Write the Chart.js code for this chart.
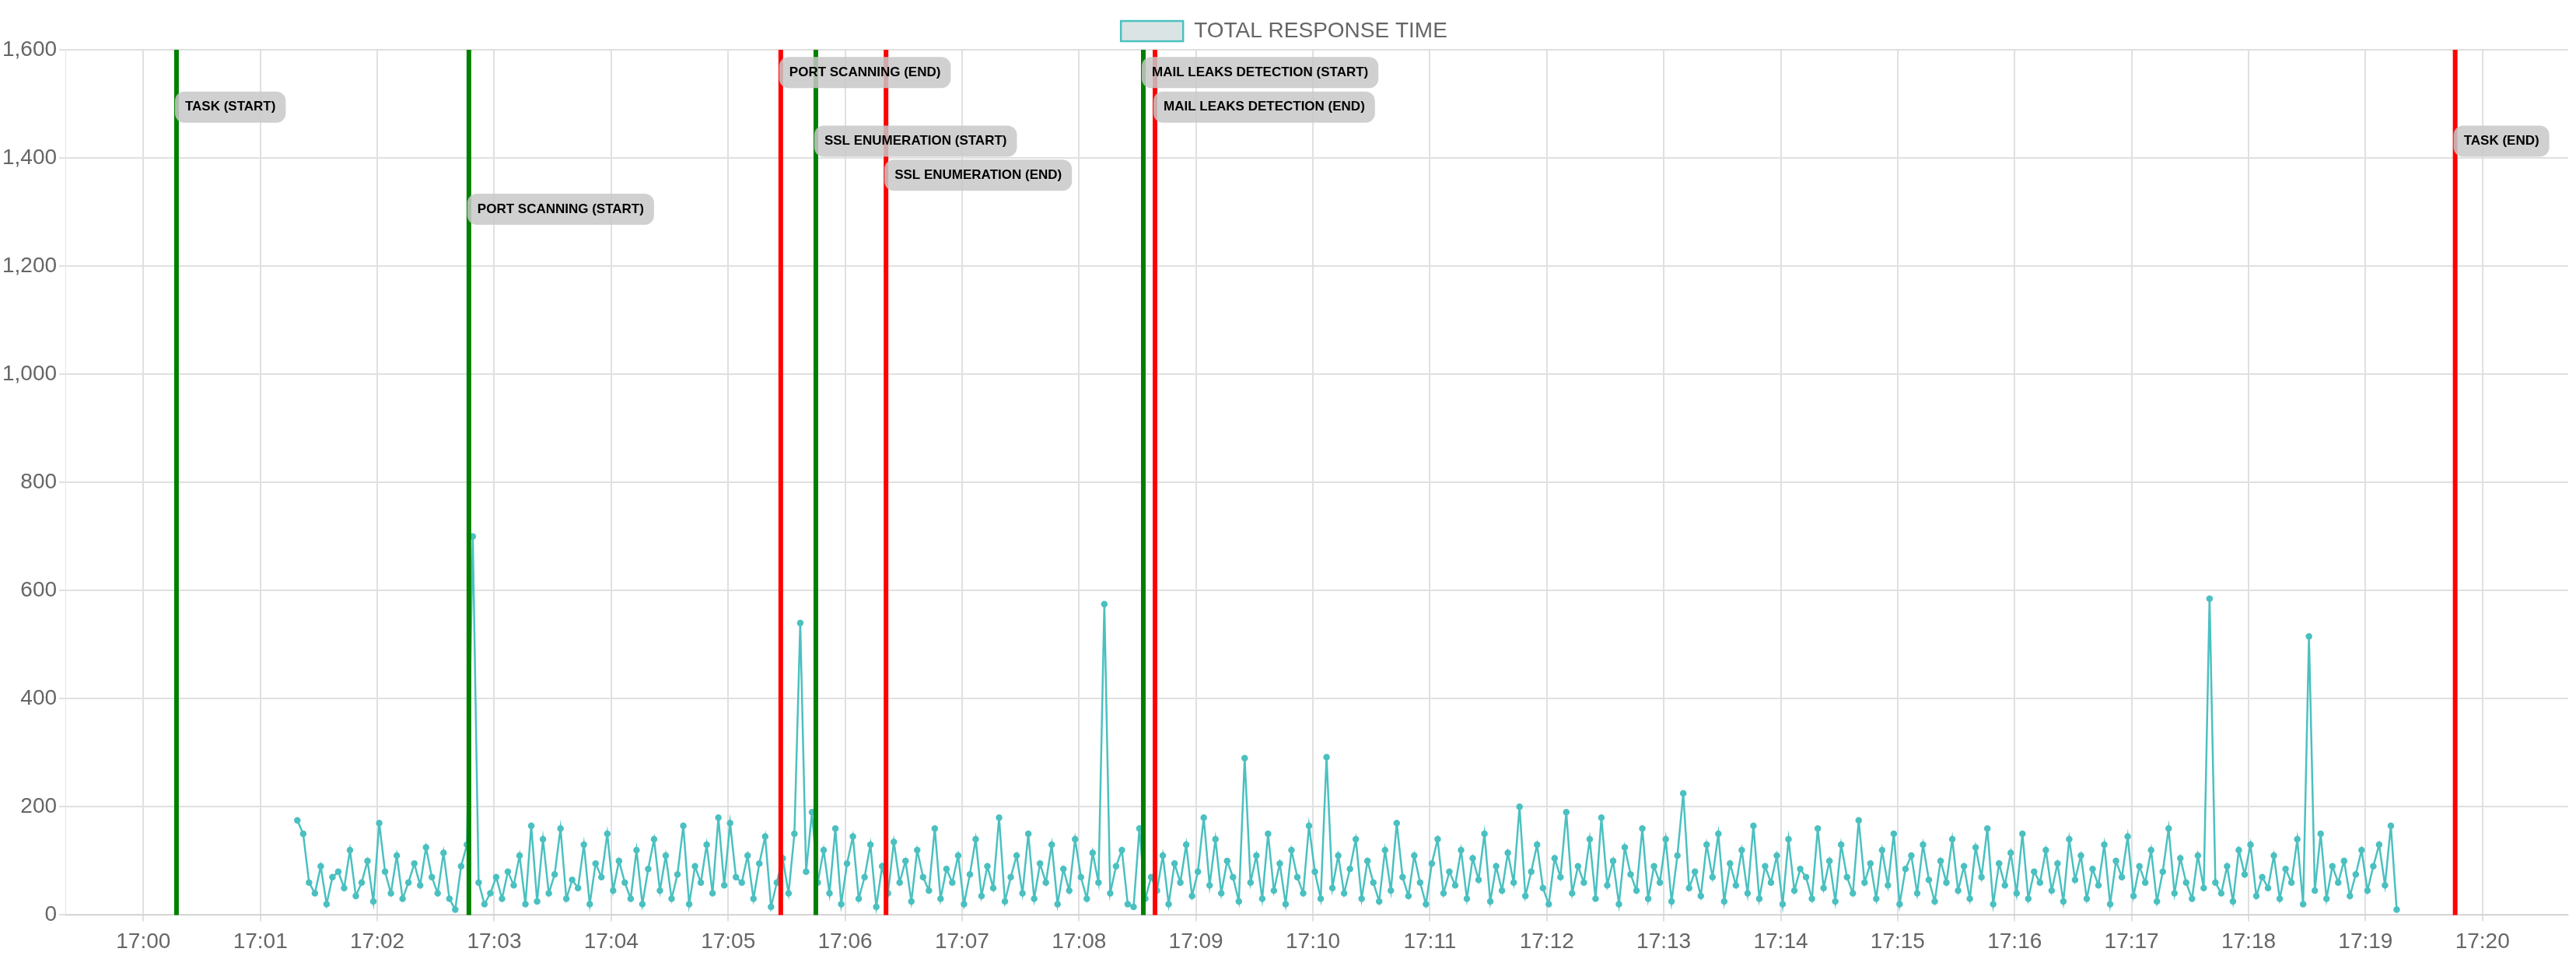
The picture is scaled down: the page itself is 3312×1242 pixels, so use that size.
<!DOCTYPE html>
<html><head><meta charset="utf-8">
<script src="https://cdn.jsdelivr.net/npm/chart.js@4/dist/chart.umd.min.js"></script>
<style>html,body{margin:0;padding:0;background:#fff}</style>
</head><body>
<canvas id="c" width="3312" height="1242"></canvas>
<script>
// seconds after 17:00:00
const startSec = 79;
const stepSec = 3;
const responseTimes = [
175,150,60,40,90,20,70,80,50,120,35,60,100,25,170,80,40,110,30,60,
95,55,125,70,40,115,30,10,90,130,700,60,20,40,70,30,80,55,110,20,
165,25,140,40,75,160,30,65,50,130,20,95,70,150,45,100,60,30,120,20,
85,140,45,110,30,75,165,20,90,60,130,40,180,55,170,70,60,110,30,95,
145,15,60,105,40,150,540,80,190,60,120,40,160,20,95,145,30,70,130,15,
90,40,135,60,100,25,120,70,45,160,30,85,60,110,20,75,140,35,90,50,
180,25,70,110,40,150,30,95,60,130,20,85,45,140,70,30,115,60,575,40,
90,120,20,15,160,30,70,45,110,20,95,60,130,35,80,180,55,140,40,100,
70,25,290,60,110,30,150,45,95,20,120,70,40,165,80,30,292,50,110,40,
85,140,30,100,60,25,120,45,170,70,35,110,60,20,95,140,40,80,55,120,
30,105,65,150,25,90,45,115,60,200,35,80,130,50,20,105,70,190,40,90,
60,140,30,180,55,100,20,125,75,45,160,30,90,60,140,25,110,225,50,80,
35,130,70,150,25,95,55,120,40,165,30,90,60,110,20,140,45,85,70,30,
160,50,100,25,130,70,40,175,60,95,30,120,55,150,20,85,110,40,130,65,
25,100,60,140,45,90,30,125,70,160,20,95,55,115,40,150,30,80,60,120,
45,95,25,140,65,110,30,85,55,130,20,100,70,145,35,90,60,120,25,80,
160,40,105,60,30,110,50,585,60,40,90,25,120,75,130,35,70,50,110,30,
85,60,140,20,515,45,150,30,90,60,100,35,75,120,45,90,130,55,165,10];
const eventNames = ["TASK (START)","PORT SCANNING (START)","PORT SCANNING (END)","SSL ENUMERATION (START)","SSL ENUMERATION (END)","MAIL LEAKS DETECTION (START)","MAIL LEAKS DETECTION (END)","TASK (END)"];
const eventTimes = [17,167,327,345,381,513,519,1186];
const eventColors = ["green","green","red","green","red","green","red","red"];
const eventLabelY = [1494,1305,1558,1431,1368,1558,1494,1431];

const points = responseTimes.map((v,i)=>({x:startSec+i*stepSec,y:v}));

const eventPlugin = {
  id:'events',
  afterDatasetsDraw(chart){
    const {ctx, chartArea:a, scales:{x,y}} = chart;
    ctx.save();
    eventTimes.forEach((t,i)=>{
      const px = x.getPixelForValue(t);
      ctx.strokeStyle = eventColors[i]; ctx.lineWidth = 6;
      ctx.beginPath(); ctx.moveTo(px,a.top); ctx.lineTo(px,a.bottom); ctx.stroke();
    });
    ctx.font = 'bold 17px "Liberation Sans", Arial, sans-serif';
    ctx.textBaseline='middle';
    eventTimes.forEach((t,i)=>{
      const px = x.getPixelForValue(t);
      const py = y.getPixelForValue(eventLabelY[i]);
      const w = ctx.measureText(eventNames[i]).width + 26, h = 40;
      ctx.fillStyle = 'rgba(200,200,200,0.85)';
      ctx.beginPath(); ctx.roundRect(px-2, py-h/2, w, h, 12); ctx.fill();
      ctx.fillStyle = '#000';
      ctx.fillText(eventNames[i], px+11, py);
    });
    ctx.restore();
  }
};

new Chart(document.getElementById('c'), {
  type:'line',
  data:{datasets:[{label:'TOTAL RESPONSE TIME', data:points, borderColor:'rgb(75,192,192)',
    backgroundColor:'rgba(215,225,225,0.9)', pointBackgroundColor:'rgb(75,192,192)', borderWidth:2.5, pointRadius:3, tension:0}]},
  options:{responsive:false, animation:false, devicePixelRatio:1,
    layout:{padding:{right:10, bottom:4}},
    plugins:{legend:{labels:{font:{size:28,family:'"Liberation Sans", Arial'},color:'#666',boxWidth:80,boxHeight:26,padding:26}}, tooltip:{enabled:false}},
    scales:{
      x:{type:'linear', min:-40, max:1244, afterBuildTicks(s){s.ticks=[];for(let m=0;m<=20;m++)s.ticks.push({value:m*60});},
        ticks:{callback:v=>'17:'+String(Math.round(v/60)).padStart(2,'0'), font:{size:28,family:'"Liberation Sans", Arial'}, color:'#666', padding:10},
        grid:{color:'#e0e0e0', lineWidth:2}},
      y:{min:0,max:1600, ticks:{stepSize:200, font:{size:28,family:'"Liberation Sans", Arial'}, color:'#666', callback:v=>v.toLocaleString('en-US')},
        grid:{color:'#e0e0e0', lineWidth:2}}
    }},
  plugins:[eventPlugin]
});
</script></body></html>
